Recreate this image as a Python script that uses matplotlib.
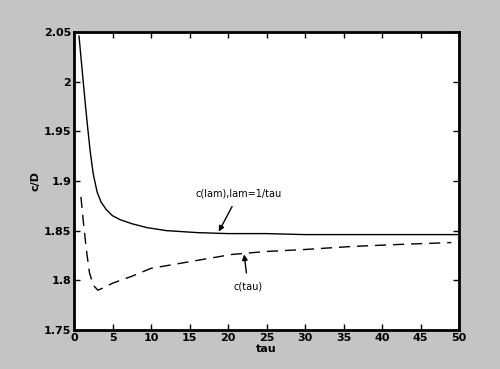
import numpy as np
import matplotlib.pyplot as plt

# values
x_lam = [0.65, 0.9, 1.2, 1.5, 1.8, 2.1, 2.5, 3.0, 3.5, 4.2, 5.0, 6.0, 7.5, 9.5,
         12, 16, 20, 25, 30, 35, 40, 45, 50]
c_lam = [2.046, 2.025, 2.0, 1.975, 1.952, 1.93, 1.907, 1.889, 1.879, 1.871, 1.865,
         1.861, 1.857, 1.853, 1.850, 1.848, 1.847, 1.847, 1.846, 1.846, 1.846,
         1.846, 1.846]

x_tau = [0.9, 1.2, 1.6, 2.0, 2.5, 3.1, 4.0, 5.0, 7.5, 10, 14.5, 20.5, 25, 30,
         36, 42, 49]
c_tau = [1.884, 1.86, 1.831, 1.808, 1.795, 1.790, 1.793, 1.797, 1.804, 1.812,
         1.818, 1.826, 1.829, 1.831, 1.834, 1.836, 1.838]

xticks = np.arange(0, 51, 5)
yticks = [1.75, 1.8, 1.85, 1.9, 1.95, 2, 2.05]
ytick_labels = ['1.75', '1.8', '1.85', '1.9', '1.95', '2', '2.05']

fig = plt.figure(figsize=(5, 3.69), dpi=100, facecolor='#c4c4c4')
ax = fig.add_axes([0.148, 0.106, 0.77, 0.807])
ax.set_facecolor('white')

ax.plot(x_lam, c_lam, color='black', lw=1.0)
ax.plot(x_tau, c_tau, color='black', lw=1.0, linestyle=(0, (8, 5)))

ax.annotate('c(lam),lam=1/tau', xy=(18.8, 1.849), xytext=(21.4, 1.887),
            ha='center', va='center', fontsize=7,
            arrowprops=dict(arrowstyle='-|>', color='black', lw=1.0,
                            shrinkA=4, shrinkB=0, mutation_scale=8))
ax.annotate('c(tau)', xy=(22.1, 1.826), xytext=(22.6, 1.794),
            ha='center', va='center', fontsize=7,
            arrowprops=dict(arrowstyle='-|>', color='black', lw=1.0,
                            shrinkA=4, shrinkB=0, mutation_scale=8))

ax.set_xlim(0, 50)
ax.set_ylim(1.75, 2.05)
ax.set_xticks(xticks)
ax.set_yticks(yticks)
ax.set_yticklabels(ytick_labels)
ax.tick_params(direction='in', top=True, right=True, length=4, width=1,
               labelsize=8, pad=2)
for lbl in ax.get_xticklabels() + ax.get_yticklabels():
    lbl.set_fontweight('bold')
for s in ax.spines.values():
    s.set_linewidth(2)

ax.set_xlabel('tau', fontsize=8, fontweight='bold', labelpad=1)
ax.set_ylabel('c/D', fontsize=8, fontweight='bold', labelpad=2)

fig.savefig('out.png', dpi=100, facecolor=fig.get_facecolor())
